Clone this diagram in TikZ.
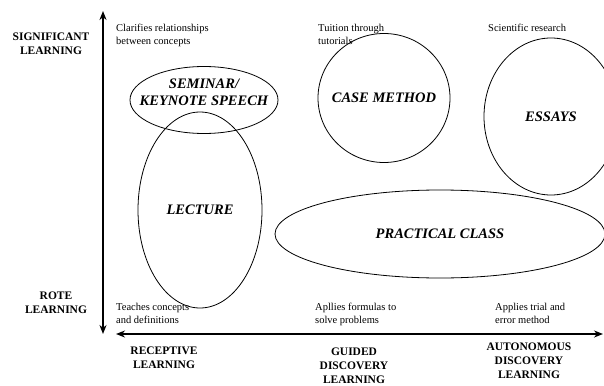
\documentclass[tikz,border=0pt]{standalone}
\usepackage{fontspec}
\setmainfont{Liberation Serif}
\usetikzlibrary{shapes.geometric,arrows.meta}
\begin{document}
\begin{tikzpicture}[x=1pt, y=-1pt,
    method/.style={shape=ellipse, draw, color=black, line width=0.8pt, inner sep=0pt},
    methodname/.style={font=\fontsize{14.5}{17}\selectfont\bfseries\itshape, align=center},
    axislabel/.style={font=\fontsize{11.5}{14}\selectfont\bfseries, align=center, anchor=base, inner sep=0pt},
    note/.style={font=\fontsize{10.5}{13}\selectfont, align=left, anchor=base west, inner sep=0pt},
    axis/.style={line width=1.6pt, {Stealth[length=9pt,width=7pt]}-{Stealth[length=9pt,width=7pt]}}]
    \useasboundingbox (0,0) rectangle (604,385);
    \begin{scope}
        \clip (0,0) rectangle (604,385);
        \node[method, minimum width=148pt, minimum height=67pt] (seminar) at (204,100) {};
        \node[method, minimum width=124pt, minimum height=196pt] (lecture) at (200,210) {};
        \node[method, minimum width=132pt, minimum height=129pt] (casemethod) at (384,98) {};
        \node[method, minimum width=134pt, minimum height=157pt] (essays) at (551,116.5) {};
        \node[method, minimum width=330pt, minimum height=88pt] (practical) at (440,234) {};
    \end{scope}
    \node[methodname, yshift=8pt] (seminarname) at (seminar) {SEMINAR/\\KEYNOTE SPEECH};
    \node[methodname] (lecturename) at (lecture) {LECTURE};
    \node[methodname] (casemethodname) at (casemethod) {CASE METHOD};
    \node[methodname] (essaysname) at (essays) {ESSAYS};
    \node[methodname] (practicalname) at (practical) {PRACTICAL CLASS};
    % axes
    \coordinate (vtop) at (103,11);
    \coordinate (vbottom) at (103,334);
    \coordinate (hleft) at (116,334);
    \coordinate (hright) at (603,334);
    \draw[axis] (vtop) -- (vbottom);
    \draw[axis] (hleft) -- (hright);
    % labels sit on the baseline of their last line
    \node[axislabel] (significant) at (51,55) {SIGNIFICANT\\LEARNING};
    \node[axislabel] (rote) at (56,313) {ROTE\\LEARNING};
    \node[axislabel] (receptive) at (164,368) {RECEPTIVE\\LEARNING};
    \node[axislabel] (guided) at (354,383) {GUIDED\\DISCOVERY\\LEARNING};
    \node[axislabel] (autonomous) at (529,378) {AUTONOMOUS\\DISCOVERY\\LEARNING};
    % notes
    \node[note] (clarifies) at (116,45) {Clarifies relationships\\between concepts};
    \node[note] (tuition) at (318,45) {Tuition through\\tutorials};
    \node[note] (scientific) at (488,31.5) {Scientific research};
    \node[note] (teaches) at (116,323) {Teaches concepts\\and definitions};
    \node[note] (formulas) at (315,323) {Apllies formulas to\\solve problems};
    \node[note] (trial) at (495,323) {Applies trial and\\error method};
\end{tikzpicture}
\end{document}
